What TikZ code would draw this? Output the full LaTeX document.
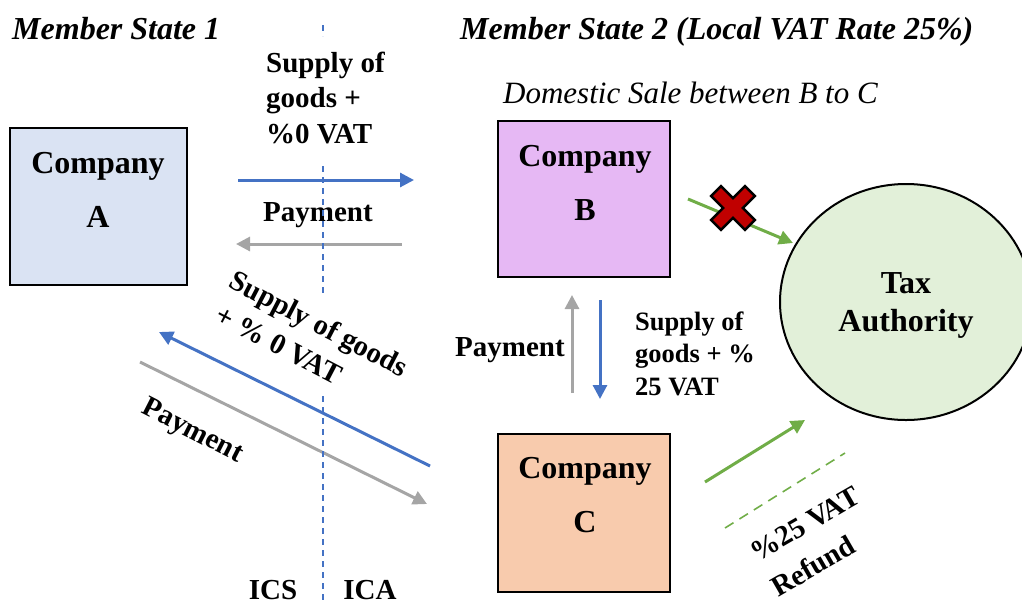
\documentclass[tikz,border=0pt]{standalone}
\usepackage{fontspec}
\setmainfont{Liberation Serif}
\usetikzlibrary{arrows.meta,shapes.geometric}
\definecolor{boxA}{HTML}{DAE3F3}
\definecolor{boxB}{HTML}{E6B8F4}
\definecolor{boxC}{HTML}{F8CBAD}
\definecolor{taxfill}{HTML}{E2F0D9}
\definecolor{flowblue}{HTML}{4472C4}
\definecolor{flowgray}{HTML}{A5A5A5}
\definecolor{flowgreen}{HTML}{70AD47}
\definecolor{crossred}{HTML}{C00000}
\tikzset{
  company/.style={draw=black, line width=2pt},
  big/.style={font=\fontsize{32}{38}\selectfont\bfseries, inner sep=0pt, anchor=base},
  lbl/.style={font=\fontsize{29}{35}\selectfont\bfseries, inner sep=0pt},
  small/.style={font=\fontsize{26.5}{32}\selectfont\bfseries, inner sep=0pt, anchor=base west},
  head/.style={font=\fontsize{32}{38}\selectfont\bfseries\itshape, inner sep=0pt, anchor=base west},
  flow/.style={line width=3pt, -{Triangle[length=14pt,width=14pt]}},
  border/.style={flowblue, line width=1.3pt, dash pattern=on 6pt off 5pt},
}
\begin{document}
\begin{tikzpicture}[x=1pt,y=-1pt]
\useasboundingbox (0,0) rectangle (1022,603);
\clip (0,0) rectangle (1022,603);

% headings
\node[head] (ms1) at (12,39) {Member State 1};
\node[head] (ms2) at (460,39) {Member State 2 (Local VAT Rate 25\%)};
\node[font=\fontsize{31}{36}\selectfont\itshape, anchor=base west, inner sep=0pt] (dom) at (503,103) {Domestic Sale between B to C};

% companies and the tax authority
\node[company, fill=boxA, minimum width=177pt, minimum height=157pt] (A) at (98.5,206.5) {};
\node[company, fill=boxB, minimum width=172pt, minimum height=156pt] (B) at (584,199) {};
\node[company, fill=boxC, minimum width=172pt, minimum height=158pt] (C) at (584,513) {};
\node[big] (Aco) at (98,173) {Company};
\node[big] (Aname) at (98,227) {A};
\node[big] (Bco) at (585,166) {Company};
\node[big] (Bname) at (585,220) {B};
\node[big] (Cco) at (585,478) {Company};
\node[big] (Cname) at (585,532) {C};
\node[draw=black, line width=2pt, fill=taxfill, ellipse, minimum width=252pt, minimum height=236pt] (tax) at (906,302) {};
\node[big] (taxA) at (906,293) {Tax};
\node[big] (taxB) at (906,331) {Authority};

% cross-border flows between A and B
\coordinate (s1) at (238,180); \coordinate (e1) at (414,180);
\draw[flow, flowblue] (s1) -- (e1);
\coordinate (s2) at (402,244); \coordinate (e2) at (236,244);
\draw[flow, flowgray] (s2) -- (e2);
\node[lbl, anchor=base west] (supAB1) at (266,72) {Supply of};
\node[lbl, anchor=base west] (supAB2) at (266,107.5) {goods +};
\node[lbl, anchor=base west] (supAB3) at (266,143) {\%0 VAT};
\node[lbl] (payAB) at (318,215) {Payment};

% cross-border flows between A and C
\coordinate (s3) at (430,466); \coordinate (e3) at (159,332);
\draw[flow, flowblue] (s3) -- (e3);
\coordinate (s4) at (140,362); \coordinate (e4) at (427,504);
\draw[flow, flowgray] (s4) -- (e4);
\node[lbl, rotate=-27.5] (supAC1) at (318,326) {Supply of goods};
\node[lbl, rotate=-27.5] (supAC2) at (279,345) {+ \% 0 VAT};
\node[lbl, rotate=-27] (payAC) at (192,432) {Payment};

% domestic flows between B and C
\coordinate (s5) at (572,393); \coordinate (e5) at (572,295);
\draw[flow, flowgray] (s5) -- (e5);
\coordinate (s6) at (600,300); \coordinate (e6) at (600,399);
\draw[flow, flowblue] (s6) -- (e6);
\node[lbl] (payBC) at (510,350) {Payment};
\node[small] (supBC1) at (635,330) {Supply of};
\node[small] (supBC2) at (635,362.5) {goods + \%};
\node[small] (supBC3) at (635,395) {25 VAT};

% flows to the tax authority
\coordinate (s7) at (688,199); \coordinate (e7) at (793,243);
\draw[flow, flowgreen] (s7) -- (e7);
\coordinate (s8) at (705,482); \coordinate (e8) at (805,420);
\draw[flow, flowgreen] (s8) -- (e8);
\coordinate (s9) at (725,528); \coordinate (e9) at (845,453);
\draw[flowgreen, line width=1.6pt, dash pattern=on 10pt off 7pt] (s9) -- (e9);
\node[lbl, rotate=30] (refund1) at (805,524) {\%25 VAT};
\node[lbl, rotate=30] (refund2) at (813,566) {Refund};

% crossed-out payment of VAT by B
\coordinate (xmark) at (733,208);
\draw[fill=crossred, line width=2.5pt, line join=miter, rotate around={45:(xmark)}]
  (xmark) ++(7,24) -- ++(0,-17) -- ++(17,0) -- ++(0,-14) -- ++(-17,0) -- ++(0,-17)
  -- ++(-14,0) -- ++(0,17) -- ++(-17,0) -- ++(0,14) -- ++(17,0) -- ++(0,17) -- cycle;

% border between the two member states, broken by the labels
\coordinate (b1) at (323,25);  \coordinate (b2) at (323,36);
\coordinate (b3) at (323,166); \coordinate (b4) at (323,295);
\coordinate (b5) at (323,396); \coordinate (b6) at (323,603);
\draw[border] (b1) -- (b2) (b3) -- (b4) (b5) -- (b6);

% labels of the two sides
\node[lbl, anchor=base] (ics) at (273,599) {ICS};
\node[lbl, anchor=base] (ica) at (370,599) {ICA};
\end{tikzpicture}
\end{document}
